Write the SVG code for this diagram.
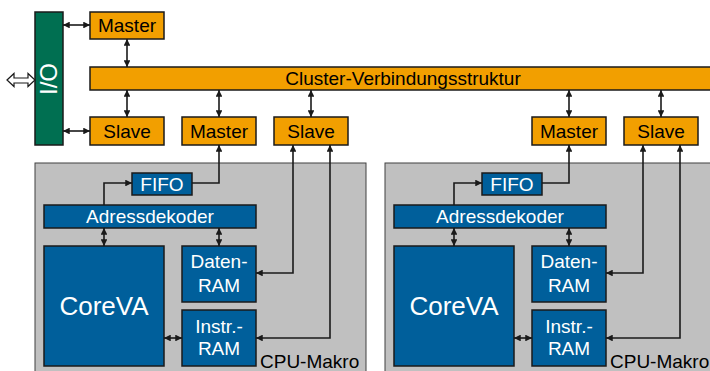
<svg xmlns="http://www.w3.org/2000/svg" width="710" height="371" viewBox="0 0 710 371">
<style>
.or{fill:#F29F00;stroke:#1a1a1a;stroke-width:1.5}
.bl{fill:#005F9B;stroke:#1a1a1a;stroke-width:1.5}
.gr{fill:#C0C0C0;stroke:#404040;stroke-width:1}
.t{font-family:"Liberation Sans",Arial,sans-serif;font-size:19px;text-anchor:middle;fill:#000}
.w{fill:#fff}
.c{fill:none;stroke:#1a1a1a;stroke-width:1.6}
</style>
<defs>
<marker id="ah" viewBox="0 0 10 10" refX="10" refY="5" markerWidth="4.6" markerHeight="4.2" orient="auto-start-reverse" markerUnits="strokeWidth">
<path d="M0,0 L10,5 L0,10 Z" fill="#1a1a1a"/>
</marker>
</defs>
<g id="cpu1"><rect class="gr" x="35" y="163" width="331" height="220"/><text class="t" x="260" y="368" style="text-anchor:start">CPU-Makro</text></g>
<g id="cpu2"><rect class="gr" x="385" y="163" width="340" height="220"/><text class="t" x="610" y="368" style="text-anchor:start">CPU-Makro</text></g>
<g id="io"><rect x="35" y="12" width="28" height="133" fill="#006F51" stroke="#1a1a1a" stroke-width="1.5"/><text class="t w" x="0" y="0" style="font-size:24px" transform="translate(57,79) rotate(-90)">I/O</text></g>
<g id="ext"><polygon points="7,80 14,73.5 14,78 28,78 28,73.5 35,80 28,86.5 28,83 14,83 14,86.5" fill="#fff" stroke="#1a1a1a" stroke-width="1.2"/></g>
<g id="master0"><rect class="or" x="90" y="12" width="74" height="27"/><text class="t" x="127" y="32">Master</text></g>
<g id="cluster"><rect class="or" x="90" y="67" width="625" height="23"/><text class="t" x="403" y="85">Cluster-Verbindungsstruktur</text></g>
<g id="slave0"><rect class="or" x="90" y="117" width="74" height="28"/><text class="t" x="127" y="138">Slave</text></g>
<g id="master1"><rect class="or" x="182" y="117" width="74" height="28"/><text class="t" x="219" y="138">Master</text></g>
<g id="slave1"><rect class="or" x="274" y="117" width="74" height="28"/><text class="t" x="311" y="138">Slave</text></g>
<g id="master2"><rect class="or" x="532" y="117" width="74" height="28"/><text class="t" x="569" y="138">Master</text></g>
<g id="slave2"><rect class="or" x="624" y="117" width="74" height="28"/><text class="t" x="661" y="138">Slave</text></g>
<g id="fifo1"><rect class="bl" x="132" y="173" width="60" height="22"/><text class="t w" x="162" y="191">FIFO</text></g>
<g id="dec1"><rect class="bl" x="44" y="205" width="212" height="23"/><text class="t w" x="150" y="223">Adressdekoder</text></g>
<g id="core1"><rect class="bl" x="44" y="246" width="120" height="120"/><text class="t w" x="104" y="315" style="font-size:26px">CoreVA</text></g>
<g id="dram1"><rect class="bl" x="182" y="246" width="74" height="56"/><text class="t w" x="219" y="268">Daten-</text><text class="t w" x="219" y="292">RAM</text></g>
<g id="iram1"><rect class="bl" x="182" y="310" width="74" height="56"/><text class="t w" x="219" y="333">Instr.-</text><text class="t w" x="219" y="355">RAM</text></g>
<g id="fifo2"><rect class="bl" x="482" y="173" width="60" height="22"/><text class="t w" x="512" y="191">FIFO</text></g>
<g id="dec2"><rect class="bl" x="394" y="205" width="212" height="23"/><text class="t w" x="500" y="223">Adressdekoder</text></g>
<g id="core2"><rect class="bl" x="394" y="246" width="120" height="120"/><text class="t w" x="454" y="315" style="font-size:26px">CoreVA</text></g>
<g id="dram2"><rect class="bl" x="532" y="246" width="74" height="56"/><text class="t w" x="569" y="268">Daten-</text><text class="t w" x="569" y="292">RAM</text></g>
<g id="iram2"><rect class="bl" x="532" y="310" width="74" height="56"/><text class="t w" x="569" y="333">Instr.-</text><text class="t w" x="569" y="355">RAM</text></g>
<g id="connectors">
<path class="c" d="M63,25 H90" marker-start="url(#ah)" marker-end="url(#ah)"/>
<path class="c" d="M63,131 H90" marker-start="url(#ah)" marker-end="url(#ah)"/>
<path class="c" d="M127,39 V67" marker-start="url(#ah)" marker-end="url(#ah)"/>
<path class="c" d="M127,90 V117" marker-start="url(#ah)" marker-end="url(#ah)"/>
<path class="c" d="M219,90 V117" marker-start="url(#ah)" marker-end="url(#ah)"/>
<path class="c" d="M311,90 V117" marker-start="url(#ah)" marker-end="url(#ah)"/>
<path class="c" d="M569,90 V117" marker-start="url(#ah)" marker-end="url(#ah)"/>
<path class="c" d="M661,90 V117" marker-start="url(#ah)" marker-end="url(#ah)"/>
<path class="c" d="M104,205 V183 H132" marker-end="url(#ah)"/>
<path class="c" d="M192,183 H219 V145" marker-end="url(#ah)"/>
<path class="c" d="M293,145 V273 H256" marker-start="url(#ah)" marker-end="url(#ah)"/>
<path class="c" d="M330,145 V338 H256" marker-start="url(#ah)" marker-end="url(#ah)"/>
<path class="c" d="M104,228 V246" marker-start="url(#ah)" marker-end="url(#ah)"/>
<path class="c" d="M219,228 V246" marker-start="url(#ah)" marker-end="url(#ah)"/>
<path class="c" d="M164,338 H182" marker-start="url(#ah)" marker-end="url(#ah)"/>
<path class="c" d="M454,205 V183 H482" marker-end="url(#ah)"/>
<path class="c" d="M542,183 H569 V145" marker-end="url(#ah)"/>
<path class="c" d="M643,145 V273 H606" marker-start="url(#ah)" marker-end="url(#ah)"/>
<path class="c" d="M680,145 V338 H606" marker-start="url(#ah)" marker-end="url(#ah)"/>
<path class="c" d="M454,228 V246" marker-start="url(#ah)" marker-end="url(#ah)"/>
<path class="c" d="M569,228 V246" marker-start="url(#ah)" marker-end="url(#ah)"/>
<path class="c" d="M514,338 H532" marker-start="url(#ah)" marker-end="url(#ah)"/>
</g>
</svg>
